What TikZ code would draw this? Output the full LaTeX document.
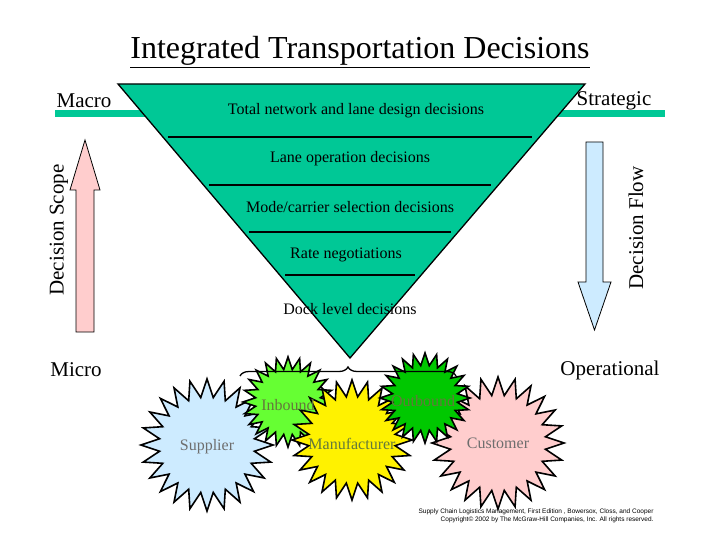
\documentclass[tikz,border=0pt]{standalone}
\usepackage{fontspec}
\setmainfont{Liberation Serif}
\newfontfamily\arialf{Liberation Sans}
\usetikzlibrary{shapes.geometric,decorations.pathreplacing,shadows}
\definecolor{teal1}{RGB}{0,200,150}
\definecolor{pinkA}{RGB}{255,205,205}
\definecolor{blueA}{RGB}{205,235,255}
\definecolor{greenL}{RGB}{102,255,51}
\definecolor{greenD}{RGB}{0,200,0}
\definecolor{txtg}{RGB}{110,110,110}
\definecolor{txtd}{RGB}{100,120,60}
\tikzset{
  lvl/.style={font=\fontsize{16}{18}\selectfont},
  side/.style={font=\fontsize{21}{23}\selectfont},
  burst/.style={star, star points=24, star point ratio=1.38, draw=black, line width=1.6pt, inner sep=0pt},
  bt/.style={font=\fontsize{16}{18}\selectfont}
}
\begin{document}
\begin{tikzpicture}[x=1pt,y=-1pt]
\useasboundingbox (0,0) rectangle (720,540);
\node[font=\fontsize{32}{34}\selectfont] (title) at (360,52) {\underline{Integrated Transportation Decisions}};
% green bars
\fill[teal1] (55,110) rectangle (150,117);
\fill[teal1] (555,110) rectangle (665,117);
% funnel
\draw[fill=teal1, line width=1.3pt] (118,84) -- (585,84) -- (350,358) -- cycle;
\coordinate (apex) at (350,358);
\foreach \y in {137,185,232,275}{
  \pgfmathsetmacro{\hw}{(358-\y)*0.8522}
  \draw[line width=1.3pt] ({350-\hw+6},\y) -- ({350+\hw-6},\y);
}
\node[lvl] (l1) at (356,111) {Total network and lane design decisions};
\node[lvl] (l2) at (350,159) {Lane operation decisions};
\node[lvl] (l3) at (350,207) {Mode/carrier selection decisions};
\node[lvl] (l4) at (346,255) {Rate negotiations};
\node[lvl] (l5) at (350,309) {Dock level decisions};
\node[side] (macro) at (84,101) {Macro};
\node[side] (strat) at (614,101) {Strategic};
\node[side] (micro) at (76,370) {Micro};
\node[side] (oper) at (610,370) {Operational};
\node[side, rotate=90] (dscope) at (59,230) {Decision Scope};
\node[side, rotate=90] (dflow) at (636,228) {Decision Flow};
% arrows
\draw[fill=pinkA, line width=0.8pt] (76,332) -- (76,190) -- (70,190) -- (85,140) -- (100,190) -- (94,190) -- (94,332) -- cycle;
\draw[fill=blueA, line width=0.8pt] (586,142) -- (603,142) -- (603,282) -- (611,282) -- (594.5,330) -- (578,282) -- (586,282) -- cycle;
% bursts
\node[burst, fill=blueA, minimum size=132pt] (sup) at (207,445) {};
\node[bt, text=txtg] at (207,447) {Supplier};
\node[burst, fill=pinkA, minimum size=132pt] (cus) at (498,443) {};
\node[bt, text=txtg] at (498,443) {Customer};
\node[burst, fill=greenL, minimum size=90pt] (inb) at (288,402) {};
\node[burst, fill=yellow, minimum size=120pt] (man) at (352,440) {};
\node[burst, fill=greenD, minimum size=90pt] (outb) at (425,398) {};
\node[bt, text=txtd] at (288,405) {Inbound};
\node[bt, text=txtd] at (352,444) {Manufacturer};
\node[bt, text=txtd] at (423,401) {Outbound};
% brace
\draw[line width=1.3pt, decorate, decoration={brace, amplitude=9pt}] (240,376) -- (456,376);
\node[font=\arialf\fontsize{6.5}{8}\selectfont, align=right, anchor=east] (foot) at (657,516) {Supply Chain Logistics Management, First Edition , Bowersox, Closs, and Cooper\\Copyright\textcopyright\ 2002 by The McGraw-Hill Companies, Inc. All rights reserved.};
\end{tikzpicture}
\end{document}
